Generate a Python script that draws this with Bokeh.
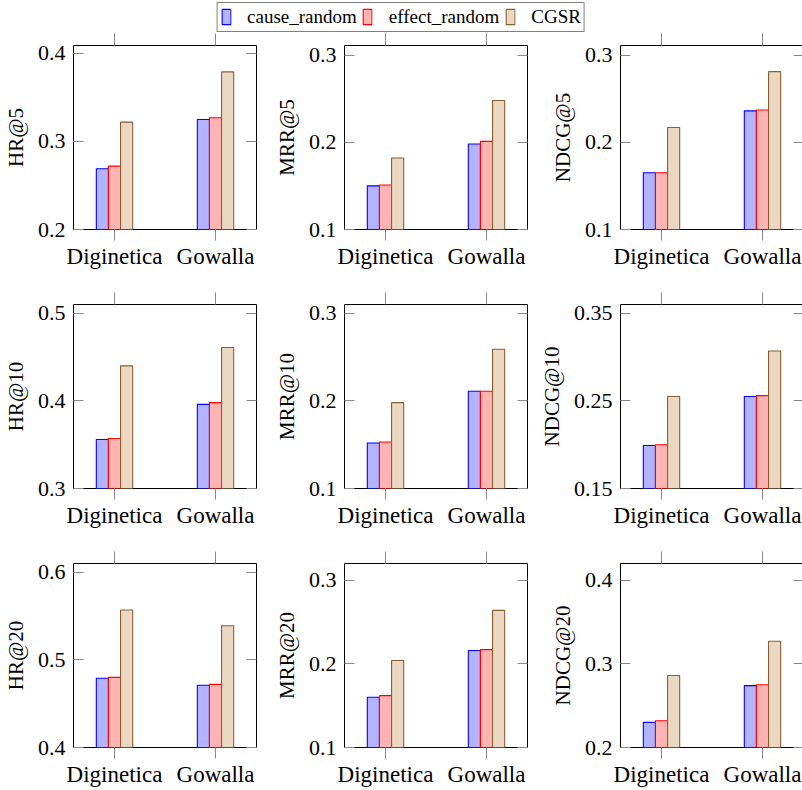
from bokeh.plotting import figure
from bokeh.models import (Range1d, FixedTicker, LinearAxis, ColumnDataSource,
                          Legend, LegendItem, CustomLabelingPolicy)
from bokeh.transform import dodge
from bokeh.layouts import column, row
from bokeh.embed import file_html
from bokeh.resources import INLINE

# ---------------- data ----------------
categories = ["Diginetica", "Gowalla"]
methods = ["cause_random", "effect_random", "CGSR"]

hr5_cause = [0.269, 0.325]
hr5_effect = [0.272, 0.327]
hr5_cgsr = [0.322, 0.379]

mrr5_cause = [0.150, 0.198]
mrr5_effect = [0.151, 0.201]
mrr5_cgsr = [0.182, 0.248]

ndcg5_cause = [0.165, 0.236]
ndcg5_effect = [0.165, 0.237]
ndcg5_cgsr = [0.217, 0.281]

hr10_cause = [0.356, 0.396]
hr10_effect = [0.357, 0.398]
hr10_cgsr = [0.440, 0.461]

mrr10_cause = [0.152, 0.211]
mrr10_effect = [0.153, 0.211]
mrr10_cgsr = [0.198, 0.259]

ndcg10_cause = [0.199, 0.255]
ndcg10_effect = [0.200, 0.256]
ndcg10_cgsr = [0.255, 0.307]

hr20_cause = [0.479, 0.471]
hr20_effect = [0.480, 0.472]
hr20_cgsr = [0.557, 0.539]

mrr20_cause = [0.160, 0.216]
mrr20_effect = [0.162, 0.217]
mrr20_cgsr = [0.204, 0.264]

ndcg20_cause = [0.230, 0.274]
ndcg20_effect = [0.232, 0.275]
ndcg20_cgsr = [0.286, 0.327]

metric_labels = ["HR@5", "MRR@5", "NDCG@5",
                 "HR@10", "MRR@10", "NDCG@10",
                 "HR@20", "MRR@20", "NDCG@20"]
y_ticks = [[0.2, 0.3, 0.4], [0.1, 0.2, 0.3], [0.1, 0.2, 0.3],
           [0.3, 0.4, 0.5], [0.1, 0.2, 0.3], [0.15, 0.25, 0.35],
           [0.4, 0.5, 0.6], [0.1, 0.2, 0.3], [0.2, 0.3, 0.4]]
y_limits = [(0.2, 0.409), (0.1, 0.311), (0.1, 0.311),
            (0.3, 0.51), (0.1, 0.31), (0.15, 0.36),
            (0.4, 0.61), (0.1, 0.32), (0.2, 0.42)]
series = [
    (hr5_cause, hr5_effect, hr5_cgsr),
    (mrr5_cause, mrr5_effect, mrr5_cgsr),
    (ndcg5_cause, ndcg5_effect, ndcg5_cgsr),
    (hr10_cause, hr10_effect, hr10_cgsr),
    (mrr10_cause, mrr10_effect, mrr10_cgsr),
    (ndcg10_cause, ndcg10_effect, ndcg10_cgsr),
    (hr20_cause, hr20_effect, hr20_cgsr),
    (mrr20_cause, mrr20_effect, mrr20_cgsr),
    (ndcg20_cause, ndcg20_effect, ndcg20_cgsr),
]

# ---------------- styles ----------------
FONT = "Liberation Serif"
fills = ["#b3b3ff", "#ffb3b3", "#ebd7c2"]
lines = ["#0000ff", "#ff0000", "#8c5e33"]
TICK_COLOR = "#8a8a8a"
BAR_W = 0.12
offsets = [-BAR_W, 0.0, BAR_W]

FRAME_W = 183
FRAME_H = 184
col_left = [70, 84, 89]
col_right = [4, 4, 1]
row_top = [12, 12, 12]
row_bottom = [63, 63, 42]

xs = list(range(len(categories)))

HIDE_CODE = """
try { for (const i of indices) { indices.unset(i) } } catch (e) {}
return indices
"""


def ticks_only_axis(ticker, tin, tout):
    return LinearAxis(ticker=ticker, major_tick_in=tin, major_tick_out=tout,
                      major_tick_line_color=TICK_COLOR,
                      minor_tick_line_color=None, axis_line_color=None,
                      major_label_text_font_size="0px",
                      major_label_standoff=0,
                      major_label_policy=CustomLabelingPolicy(code=HIDE_CODE))


def make_panel(i):
    r, c = divmod(i, 3)
    ymin, ymax = y_limits[i]
    p = figure(frame_width=FRAME_W, frame_height=FRAME_H,
               output_backend="svg", toolbar_location=None,
               x_range=Range1d(-0.406, 1.406), y_range=Range1d(ymin, ymax),
               min_border_left=col_left[c], min_border_right=col_right[c],
               min_border_top=row_top[r], min_border_bottom=row_bottom[r],
               tools="")
    p.xgrid.visible = False
    p.ygrid.visible = False
    p.outline_line_color = "black"
    p.outline_line_width = 1
    p.outline_line_alpha = 1
    p.background_fill_color = "white"
    p.border_fill_color = "white"

    data = dict(x=xs)
    for k, m in enumerate(methods):
        data[m] = series[i][k]
    src = ColumnDataSource(data)
    for k, m in enumerate(methods):
        p.vbar(x=dodge("x", offsets[k], range=p.x_range), top=m, bottom=ymin,
               width=BAR_W, source=src, fill_color=fills[k],
               line_color=lines[k], line_width=1.1)

    # bottom x axis
    xa = p.xaxis[0]
    xa.ticker = FixedTicker(ticks=xs)
    xa.major_label_overrides = {x: cat for x, cat in zip(xs, categories)}
    xa.major_tick_in = 0
    xa.major_tick_out = 11
    xa.major_tick_line_color = TICK_COLOR
    xa.minor_tick_line_color = None
    xa.axis_line_color = None
    xa.major_label_text_font = FONT
    xa.major_label_text_font_size = "23px"
    xa.major_label_text_color = "black"
    xa.major_label_standoff = 3

    # left y axis
    ya = p.yaxis[0]
    ya.ticker = FixedTicker(ticks=y_ticks[i])
    ya.major_tick_in = 10
    ya.major_tick_out = 0
    ya.major_tick_line_color = TICK_COLOR
    ya.minor_tick_line_color = None
    ya.axis_line_color = None
    ya.major_label_text_font = FONT
    ya.major_label_text_font_size = "22px"
    ya.major_label_text_color = "black"
    ya.major_label_standoff = 8
    ya.axis_label = metric_labels[i]
    ya.axis_label_text_font = FONT
    ya.axis_label_text_font_size = "21px"
    ya.axis_label_text_font_style = "normal"
    ya.axis_label_text_color = "black"
    ya.axis_label_standoff = 7

    # right y axis and top x axis (ticks only)
    p.add_layout(ticks_only_axis(FixedTicker(ticks=y_ticks[i]), 10, 0), "right")
    p.add_layout(ticks_only_axis(FixedTicker(ticks=xs), 0, 12), "above")
    return p


panels = [make_panel(i) for i in range(9)]

# ---------------- legend figure ----------------
# legend proxies: the HR@5 bars, kept below the visible range of this strip
leg = figure(width=801, height=33, output_backend="svg", toolbar_location=None,
             x_range=Range1d(-0.406, 1.406), y_range=Range1d(5, 6), tools="",
             min_border=0)
leg.axis.visible = False
leg.xgrid.visible = False
leg.ygrid.visible = False
leg.outline_line_color = None
leg_src = ColumnDataSource(dict(x=xs, cause=hr5_cause, effect=hr5_effect,
                                cgsr=hr5_cgsr))
items = []
for k, (m, col) in enumerate(zip(methods, ["cause", "effect", "cgsr"])):
    rr = leg.vbar(x=dodge("x", offsets[k], range=leg.x_range), top=col,
                  width=BAR_W, source=leg_src,
                  fill_color=fills[k], line_color=lines[k], line_width=1.1)
    items.append(LegendItem(label=m, renderers=[rr]))
legend = Legend(items=items, orientation="horizontal", location="center",
                label_text_font=FONT, label_text_font_size="19px",
                label_text_color="black", glyph_width=11, glyph_height=19,
                label_standoff=16, spacing=5, padding=3, margin=0,
                border_line_color="black", border_line_width=1,
                label_height=19)
leg.add_layout(legend, "center")

layout = column(leg,
                row(panels[0], panels[1], panels[2]),
                row(panels[3], panels[4], panels[5]),
                row(panels[6], panels[7], panels[8]))

open("out.html", "w").write(file_html(layout, INLINE))
